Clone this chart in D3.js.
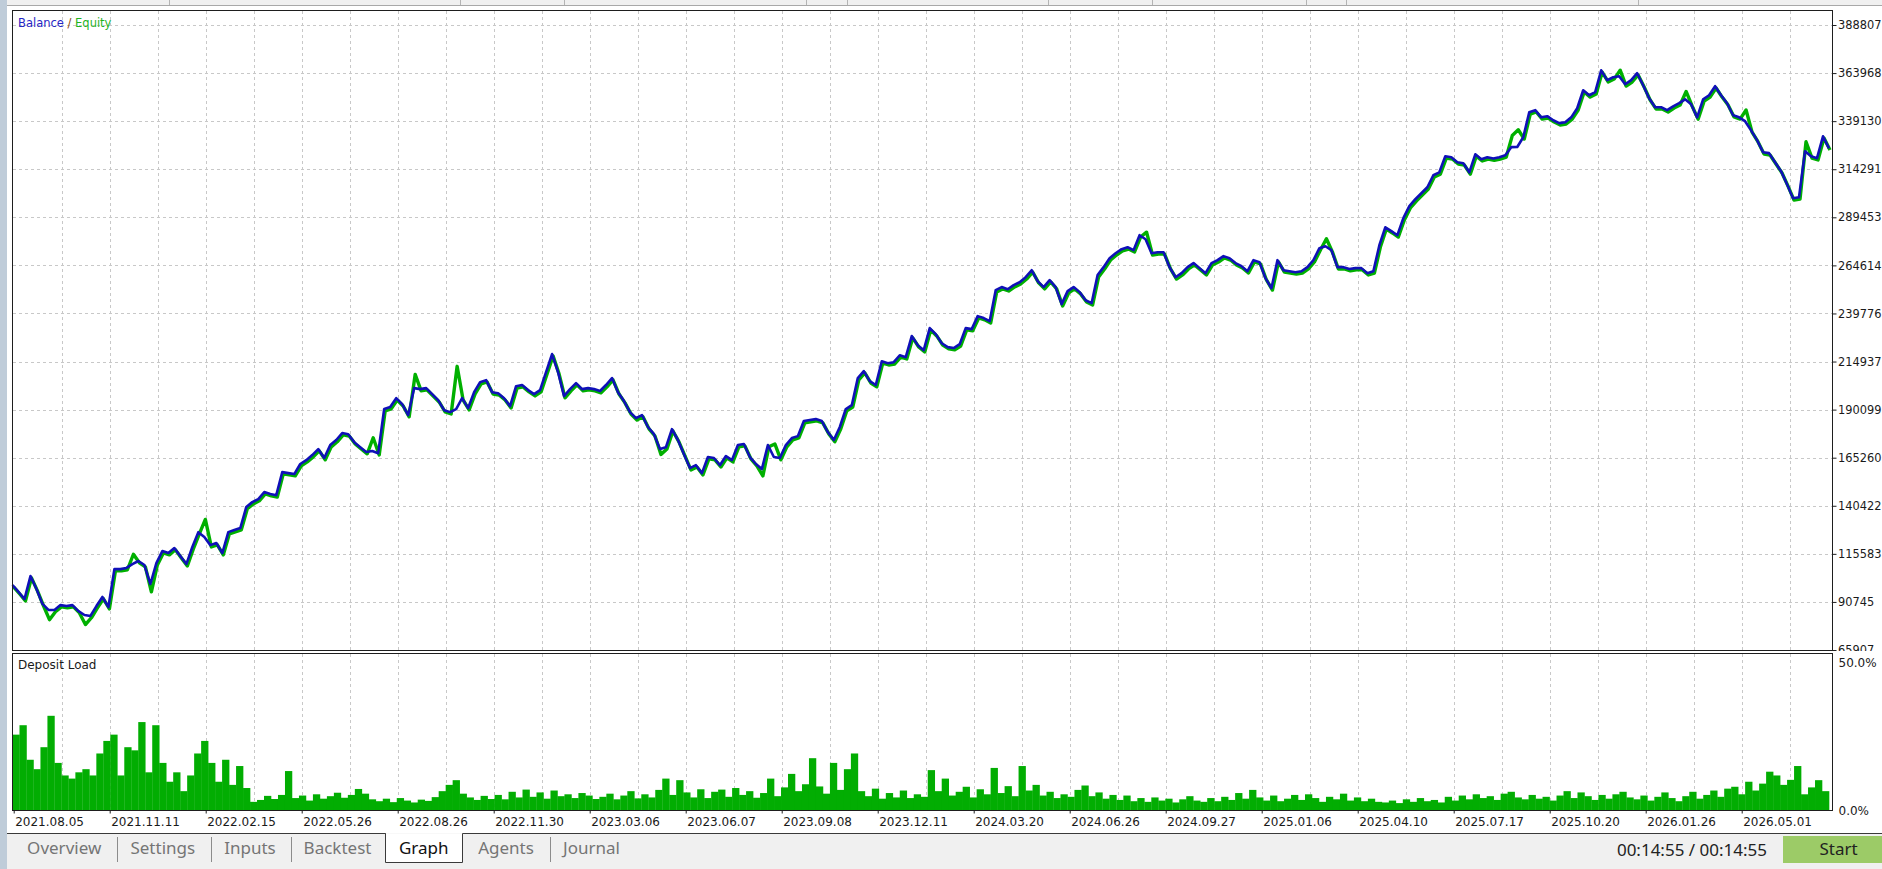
<!DOCTYPE html>
<html>
<head>
<meta charset="utf-8">
<script src="https://cdn.jsdelivr.net/npm/d3@7"></script>
<style>
html, body { margin: 0; padding: 0; background: #fff; overflow: hidden; }
svg { display: block; font-family: "DejaVu Sans", sans-serif; }
</style>
</head>
<body>
<div id="chart"></div>
<script>
// balance curve, one value per step along the deal axis
var balance = [
	99500, 95900, 92200, 104100, 97400, 89700, 86600, 86600, 89100, 88600,
	89100, 86000, 84000, 83500, 88600, 93300, 88100, 107700, 107700, 108300,
	110300, 111900, 109800, 100000, 110800, 117000, 116000, 118600, 114400, 110300,
	119100, 126800, 124300, 120100, 121200, 116000, 126800, 127900, 128900, 139800,
	142300, 143900, 147500, 146500, 145900, 157800, 157300, 156800, 162000, 164000,
	166600, 169700, 165100, 171800, 174400, 178000, 177400, 173300, 170700, 168200,
	168700, 167600, 190400, 191400, 196000, 192900, 187300, 201200, 200700, 201200,
	198100, 195000, 189800, 188800, 190400, 196000, 190900, 199100, 204300, 205300,
	199100, 198600, 196000, 191900, 202200, 202800, 200200, 198100, 200200, 209500,
	218800, 209500, 197100, 200700, 203800, 200700, 201200, 200700, 199700, 202800,
	206400, 199100, 194500, 188800, 185700, 187300, 181100, 177400, 169700, 170700,
	180000, 174400, 167100, 159900, 161400, 157300, 165600, 165100, 161400, 166100,
	164000, 171800, 172300, 165600, 162000, 159400, 171800, 165600, 165100, 171800,
	175400, 176400, 184200, 184700, 185200, 184200, 178500, 174400, 181100, 190400,
	192400, 206400, 210000, 204800, 202800, 215100, 214100, 214600, 218200, 217200,
	228100, 223400, 220800, 232200, 229100, 224400, 222400, 221900, 223900, 232200,
	231700, 238400, 237400, 235800, 251800, 253400, 252300, 254400, 255900, 258500,
	262100, 256500, 253400, 257000, 253400, 244600, 251300, 253400, 250800, 246600,
	245100, 259600, 263700, 268300, 270900, 273000, 274000, 272500, 280200, 278100,
	270900, 271400, 271400, 263700, 258500, 260600, 263700, 265800, 263200, 260600,
	265800, 267300, 269400, 268300, 265800, 264200, 261600, 267300, 266300, 258000,
	252800, 267300, 262100, 261600, 261100, 261600, 263700, 267300, 273500, 274500,
	272500, 263700, 263700, 262700, 263200, 263200, 260600, 261600, 275000, 284300,
	282300, 280200, 289000, 295200, 298800, 301900, 305000, 311200, 312700, 321000,
	320500, 317900, 317400, 312700, 322000, 319500, 320500, 319800, 320500, 321500,
	325700, 325800, 330800, 343700, 344800, 341100, 341700, 339600, 338100, 338600,
	341100, 345800, 355100, 352500, 354100, 365400, 360300, 361800, 362300, 358200,
	360300, 363900, 357700, 351000, 346300, 346300, 344800, 346800, 348400, 350400,
	347900, 341100, 350400, 352500, 357200, 352500, 348400, 342200, 341100, 339100,
	334400, 329300, 323100, 322600, 317900, 313300, 306500, 299300, 299800, 323600,
	321000, 320000, 331300, 325100
];

// floating profit/loss where equity leaves balance
var floatIdx = [6, 12, 20, 23, 32, 60, 67, 74, 108, 125, 127, 189, 219, 250, 251, 268, 279, 289, 299];
var floatVal = [-4100, -4000, 6000, -3100, 10000, 7800, 8000, 23000, -1800, -2600, 7700, 4600, 4800, 6900, 9800, 4100, 5000, 6700, 5800];

var yTicks = [65907, 90745, 115583, 140422, 165260, 190099, 214937, 239776, 264614, 289453, 314291, 339130, 363968, 388807];

var dateLabels = [
	"2021.08.05", "2021.11.11", "2022.02.15", "2022.05.26", "2022.08.26", "2022.11.30", "2023.03.06",
	"2023.06.07", "2023.09.08", "2023.12.11", "2024.03.20", "2024.06.26", "2024.09.27", "2025.01.06",
	"2025.04.10", "2025.07.17", "2025.10.20", "2026.01.26", "2026.05.01"
];

// deposit load, percent
var depositLoad = [
	24, 27, 16, 13, 20, 30, 15, 11, 10, 12,
	13, 11, 18, 22, 24, 11, 20, 19, 28, 12,
	27, 15, 9, 12, 6, 11, 18, 22, 15, 9,
	16, 8, 14, 7, 2.6, 3.2, 4.5, 3.5, 4.8, 12.4,
	3.8, 4.6, 3.0, 5.0, 3.6, 4.4, 5.5, 3.9, 4.8, 6.7,
	5.2, 3.4, 2.8, 3.6, 2.5, 3.8, 3.0, 2.4, 3.3, 2.9,
	4.1, 6.0, 8.0, 9.5, 5.2, 4.0, 3.2, 4.5, 3.5, 4.8,
	3.4, 5.8, 4.0, 6.5, 4.2, 5.6, 3.6, 6.2, 4.4, 5.0,
	3.8, 5.4, 4.6, 3.5, 4.2, 5.2, 3.4, 4.6, 6.0, 3.7,
	5.0, 4.0, 6.4, 10.0, 4.8, 9.5, 5.6, 4.0, 6.6, 3.8,
	5.8, 6.5, 4.2, 7.0, 4.8, 6.0, 3.9, 5.4, 10.0, 4.4,
	7.2, 11.5, 6.0, 8.2, 16.5, 7.5, 5.2, 15.0, 6.4, 13.0,
	18.0, 6.0, 4.4, 6.8, 3.6, 5.4, 4.0, 6.2, 3.8, 5.0,
	4.2, 12.7, 6.0, 10.0, 4.6, 5.8, 7.4, 4.0, 6.6, 5.0,
	13.4, 5.4, 7.6, 4.4, 14.0, 6.2, 8.0, 4.6, 5.8, 3.8,
	5.0, 4.2, 6.4, 7.8, 4.4, 5.6, 3.6, 4.8, 3.2, 4.6,
	2.8, 3.8, 2.6, 4.0, 3.0, 3.6, 2.4, 3.4, 4.4, 3.0,
	2.6, 3.8, 2.8, 4.2, 3.2, 5.4, 3.6, 6.4, 4.0, 3.0,
	4.6, 2.8, 3.6, 4.8, 3.2, 5.0, 3.8, 2.6, 4.2, 3.4,
	5.2, 3.0, 4.0, 2.8, 3.6, 2.6, 2.4, 3.0, 2.2, 3.4,
	2.6, 3.8, 2.8, 3.2, 2.4, 4.2, 3.0, 4.6, 3.4, 5.0,
	3.8, 4.4, 3.2, 5.2, 5.8, 4.0, 3.4, 4.8, 3.6, 4.2,
	3.0, 4.6, 6.0, 3.8, 5.6, 4.4, 3.2, 4.8, 3.6, 5.0,
	5.8, 4.0, 3.4, 4.6, 3.0, 4.2, 5.6, 3.8, 2.8, 4.4,
	5.8, 3.6, 4.8, 6.2, 4.2, 6.8, 7.4, 5.0, 9.0, 6.2,
	8.4, 12.2, 11.0, 8.0, 9.6, 14.0, 5.0, 7.2, 9.5, 6.0
];
var loadTicks = [0, 50];

var tabNames = ["Overview", "Settings", "Inputs", "Backtest", "Graph", "Agents", "Journal"];
var activeTab = "Graph";
var timerText = "00:14:55 / 00:14:55";

var width = 1882, height = 869;
var svg = d3.select("#chart")
	.append("svg")
	.attr("width", width)
	.attr("height", height);

// panel frame
var frameL = 12.5, frameR = 1832.5, mainTop = 10.5, mainBottom = 650.5, subTop = 653.5, subBottom = 810.5;
var gridCol = "#c8c8c8", frameCol = "#1e1e1e", textCol = "#1a1a1a";

// window chrome
svg.append("rect").attr("x", 0).attr("y", 0).attr("width", width).attr("height", 5).attr("fill", "#f0f0f0");
svg.append("line").attr("x1", 7).attr("x2", width).attr("y1", 5.5).attr("y2", 5.5).attr("stroke", "#a8a8a8");
[169, 460, 564, 806, 847, 1048, 1152, 1306, 1346, 1638].forEach(function(d) {
	svg.append("line").attr("x1", d + 0.5).attr("x2", d + 0.5).attr("y1", 0).attr("y2", 5)
		.attr("stroke", "#b4b4b4");
});
svg.append("rect").attr("x", 0).attr("y", 0).attr("width", 7).attr("height", height).attr("fill", "#bfccd9");

// scales
var x = d3.scaleLinear().domain([0, balance.length - 1]).range([12.5, 1829]);
var y = d3.scaleLinear().domain([65907, 396557]).range([650, 10]);
var xLoad = d3.scaleBand().domain(d3.range(depositLoad.length)).range([12.5, 1829]).padding(0);
var yLoad = d3.scaleLinear().domain([0, 50]).range([810, 653]);
var gridX = d3.scaleLinear().domain([0, 37]).range([13.7, 13.7 + 48 * 37]);
var xDate = d3.scalePoint().domain(dateLabels).range([gridX(0), gridX(36)]);

function snap(v) { return Math.round(v) + 0.5; }

// grid
var grid = svg.append("g")
	.attr("stroke", gridCol)
	.attr("stroke-dasharray", "3,3")
	.attr("shape-rendering", "crispEdges");
d3.range(1, 38).forEach(function(k) {
	var gx = snap(gridX(k));
	grid.append("line").attr("x1", gx).attr("x2", gx).attr("y1", mainTop).attr("y2", mainBottom);
	grid.append("line").attr("x1", gx).attr("x2", gx).attr("y1", subTop).attr("y2", subBottom);
});
yTicks.forEach(function(t) {
	var gy = snap(y(t));
	if (gy >= mainBottom) return;
	grid.append("line").attr("x1", frameL).attr("x2", frameR).attr("y1", gy).attr("y2", gy);
});

// deposit load bars
svg.append("g")
	.selectAll("rect")
	.data(depositLoad)
	.enter()
	.append("rect")
	.attr("x", function(d, i) { return xLoad(i); })
	.attr("width", xLoad.bandwidth() + 0.3)
	.attr("y", function(d) { return yLoad(d); })
	.attr("height", function(d) { return yLoad(0) - yLoad(d); })
	.attr("fill", "#02ad02");

// equity = balance + floating
var floating = new Map(floatIdx.map(function(d, i) { return [d, floatVal[i]]; }));
var equity = balance.map(function(b, i) { return b + (floating.get(i) || 0); });

var line = d3.line()
	.x(function(d, i) { return x(i); })
	.y(function(d) { return y(d); });

svg.append("path")
	.datum(equity)
	.attr("d", line)
	.attr("transform", "translate(1,1.8)")
	.attr("fill", "none")
	.attr("stroke", "#00b000")
	.attr("stroke-width", 3.4)
	.attr("stroke-linejoin", "round");

svg.append("path")
	.datum(balance)
	.attr("d", line)
	.attr("fill", "none")
	.attr("stroke", "#1010b8")
	.attr("stroke-width", 2.6)
	.attr("stroke-linejoin", "round");

// frames
svg.append("rect").attr("x", frameL).attr("y", mainTop).attr("width", frameR - frameL).attr("height", mainBottom - mainTop)
	.attr("fill", "none").attr("stroke", frameCol).attr("shape-rendering", "crispEdges");
svg.append("rect").attr("x", frameL).attr("y", subTop).attr("width", frameR - frameL).attr("height", subBottom - subTop)
	.attr("fill", "none").attr("stroke", frameCol).attr("shape-rendering", "crispEdges");

// y axis of balance (clip is in the group's own coordinates)
svg.append("clipPath").attr("id", "yclip")
	.append("rect").attr("x", 0).attr("y", 0).attr("width", 60).attr("height", 651);

var axisY = d3.axisRight(y)
	.tickValues(yTicks)
	.tickSize(4)
	.tickPadding(1.5)
	.tickFormat(d3.format("d"));

var gy = svg.append("g")
	.attr("transform", "translate(" + frameR + ",0)")
	.attr("clip-path", "url(#yclip)")
	.call(axisY);
gy.select(".domain").remove();
gy.selectAll("line").attr("stroke", frameCol);
gy.selectAll("text").attr("font-size", 11.4).attr("fill", textCol).attr("font-family", "DejaVu Sans");

// y axis of deposit load
var axisLoad = d3.axisRight(yLoad)
	.tickValues(loadTicks)
	.tickSize(0)
	.tickPadding(6)
	.tickFormat(function(d) { return d.toFixed(1) + "%"; });
var gl = svg.append("g")
	.attr("transform", "translate(" + frameR + ",0)")
	.call(axisLoad);
gl.select(".domain").remove();
gl.selectAll("text")
	.attr("font-size", 12).attr("fill", textCol).attr("font-family", "DejaVu Sans")
	.attr("dy", function(d) { return d === 50 ? "1.15em" : "0.4em"; });

// date axis
var axisX = d3.axisBottom(xDate).tickSize(3).tickPadding(4);
var gx = svg.append("g")
	.attr("transform", "translate(0," + subBottom + ")")
	.call(axisX);
gx.select(".domain").remove();
gx.selectAll("line").attr("stroke", frameCol);
gx.selectAll("text")
	.attr("text-anchor", "start")
	.attr("x", 1)
	.attr("font-size", 12).attr("fill", textCol).attr("font-family", "DejaVu Sans");

// panel titles
var legend = svg.append("text").attr("x", 18).attr("y", 23).attr("dy", "0.35em")
	.attr("font-size", 11.5);
legend.append("tspan").attr("fill", "#2525c4").text("Balance");
legend.append("tspan").attr("fill", "#8a4a10").text(" / ");
legend.append("tspan").attr("fill", "#1fb31f").text("Equity");

svg.append("text").attr("x", 18).attr("y", 665).attr("dy", "0.35em")
	.attr("font-size", 12).attr("fill", textCol).text("Deposit Load");

// tab bar
svg.append("rect").attr("x", 7).attr("y", 833).attr("width", width - 7).attr("height", height - 833).attr("fill", "#f0f0f0");
var tabX = [64.2, 162.8, 250, 337.5, 423.7, 506, 591.5];
var sepX = [116.7, 210.7, 290.7, 550];
svg.append("path")
	.attr("d", "M7,833.5H385.5V862.5H462.5V833.5H" + width)
	.attr("fill", "#fff").attr("stroke", "#3a3a3a");
svg.append("line").attr("x1", 7).attr("x2", 385.5).attr("y1", 833.5).attr("y2", 833.5).attr("stroke", "#3a3a3a");
sepX.forEach(function(d) {
	svg.append("line").attr("x1", snap(d)).attr("x2", snap(d)).attr("y1", 837).attr("y2", 862)
		.attr("stroke", "#8c8c8c");
});
svg.append("g")
	.selectAll("text")
	.data(tabNames)
	.enter()
	.append("text")
	.attr("x", function(d, i) { return tabX[i]; })
	.attr("y", 848)
	.attr("dy", "0.35em")
	.attr("text-anchor", "middle")
	.attr("font-family", "Noto Sans")
	.attr("font-size", 17)
	.attr("fill", function(d) { return d === activeTab ? "#111" : "#757575"; })
	.text(function(d) { return d; });

svg.append("text").attr("x", 1767).attr("y", 850.5).attr("dy", "0.35em")
	.attr("text-anchor", "end").attr("font-family", "Noto Sans").attr("font-size", 17)
	.attr("fill", "#222").text(timerText);

svg.append("rect").attr("x", 1783).attr("y", 836).attr("width", width - 1783).attr("height", 27).attr("fill", "#9ccb67");
svg.append("text").attr("x", 1838.5).attr("y", 849.5).attr("dy", "0.35em")
	.attr("text-anchor", "middle").attr("font-family", "Noto Sans").attr("font-size", 17)
	.attr("fill", "#222").text("Start");
</script>
</body>
</html>
